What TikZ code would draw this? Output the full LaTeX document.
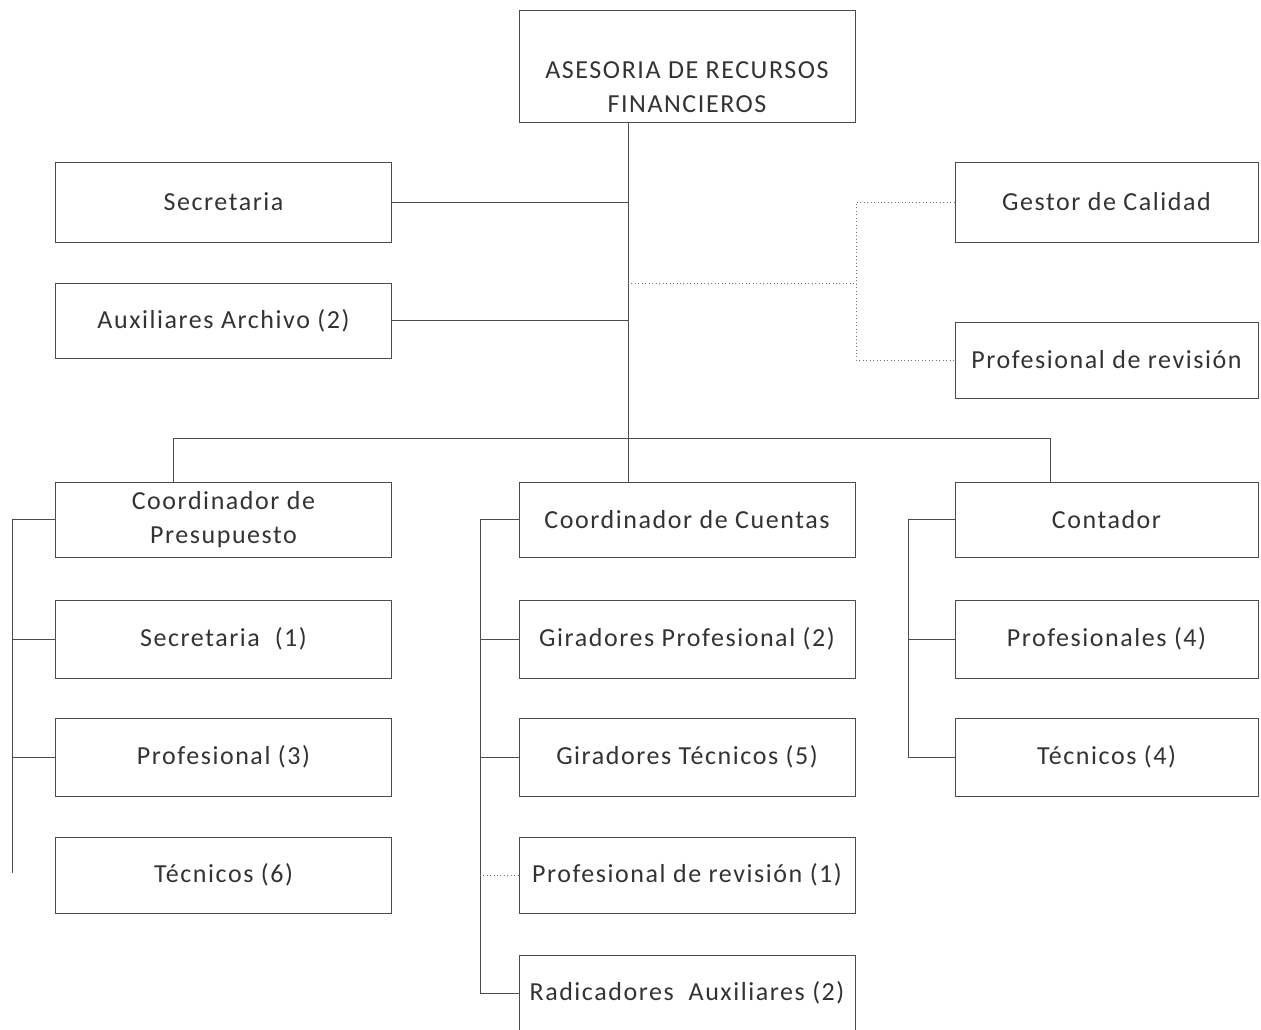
\documentclass[tikz,border=0pt]{standalone}
\usepackage{fontspec}
\setmainfont[LetterSpace=6]{Carlito}
\begin{document}
\begin{tikzpicture}[x=0.75pt,y=-0.75pt,
  box/.style={draw=black!70, line width=0.6pt, inner sep=2pt, align=center,
    text=black!80, font=\fontsize{19.5}{26}\selectfont},
  wide/.style={box, minimum width=252pt},
  narrow/.style={box, minimum width=227.25pt},
  lbl/.style={align=center, text=black!80, font=\fontsize{19.5}{25}\selectfont, inner sep=0pt},
  conn/.style={draw=black!70, line width=0.6pt},
  adv/.style={draw=black!55, line width=0.6pt, dotted}]
\useasboundingbox (0,0) rectangle (1261,1029);
% top
\node[wide, minimum height=84pt] (top) at (687,66) {};
\node[lbl] (toptext) at (687,87) {ASESORIA DE RECURSOS\\FINANCIEROS};
% staff left
\node[wide, minimum height=60pt] (sec) at (223.5,202) {Secretaria};
\node[wide, minimum height=56.25pt] (aux) at (223.5,320.5) {Auxiliares Archivo (2)};
% staff right
\node[narrow, minimum height=60pt] (gest) at (1106.5,202) {Gestor de Calidad};
\node[narrow, minimum height=57pt] (prev) at (1106.5,360) {Profesional de revisión};
% row 1
\node[wide, minimum height=56.25pt] (cp) at (223.5,519.5) {Coordinador de\\Presupuesto};
\node[wide, minimum height=56.25pt] (cc) at (687,519.5) {Coordinador de Cuentas};
\node[narrow, minimum height=56.25pt] (cont) at (1106.5,519.5) {Contador};
% row 2
\node[wide, minimum height=58.5pt] (s1) at (223.5,639) {Secretaria\ \ (1)};
\node[wide, minimum height=58.5pt] (gp) at (687,639) {Giradores Profesional (2)};
\node[narrow, minimum height=58.5pt] (pf4) at (1106.5,639) {Profesionales (4)};
% row 3
\node[wide, minimum height=58.5pt] (p3) at (223.5,757) {Profesional (3)};
\node[wide, minimum height=58.5pt] (gt) at (687,757) {Giradores Técnicos (5)};
\node[narrow, minimum height=58.5pt] (t4) at (1106.5,757) {Técnicos (4)};
% row 4
\node[wide, minimum height=57pt] (t6) at (223.5,875) {Técnicos (6)};
\node[wide, minimum height=57pt] (pr1) at (687,875) {Profesional de revisión (1)};
% row 5
\node[wide, minimum height=57pt] (ra) at (687,993) {Radicadores\ \ Auxiliares (2)};
% coordinates
\coordinate (tj) at (628,0);
\coordinate (advL) at (628,283);
\coordinate (advR) at (856,283);
\coordinate (ab) at (856,0);
\coordinate (busL) at (173,438);
\coordinate (busR) at (1050,438);
\coordinate (lb) at (12,0);
\coordinate (lbEnd) at (12,873);
\coordinate (mb) at (480,0);
\coordinate (rb) at (908,0);
% trunk
\draw[conn] (top.south -| tj) -- (cc.north -| tj);
\draw[conn] (sec.east) -- (sec.east -| tj);
\draw[conn] (aux.east) -- (aux.east -| tj);
% advisory
\draw[adv] (advL) -- (advR);
\draw[adv] (gest.west) -- (gest.west -| ab) -- (prev.west -| ab) -- (prev.west);
% bus
\draw[conn] (busL) -- (busR);
\draw[conn] (busL) -- (cp.north -| busL);
\draw[conn] (busR) -- (cont.north -| busR);
% left bracket
\draw[conn] (cp.west) -- (cp.west -| lb) -- (lbEnd);
\draw[conn] (s1.west) -- (s1.west -| lb);
\draw[conn] (p3.west) -- (p3.west -| lb);
% middle bracket
\draw[conn] (cc.west) -- (cc.west -| mb) -- (ra.west -| mb) -- (ra.west);
\draw[conn] (gp.west) -- (gp.west -| mb);
\draw[conn] (gt.west) -- (gt.west -| mb);
\draw[adv] (pr1.west) -- (pr1.west -| mb);
% right bracket
\draw[conn] (cont.west) -- (cont.west -| rb) -- (t4.west -| rb);
\draw[conn] (pf4.west) -- (pf4.west -| rb);
\draw[conn] (t4.west) -- (t4.west -| rb);
\end{tikzpicture}
\end{document}
